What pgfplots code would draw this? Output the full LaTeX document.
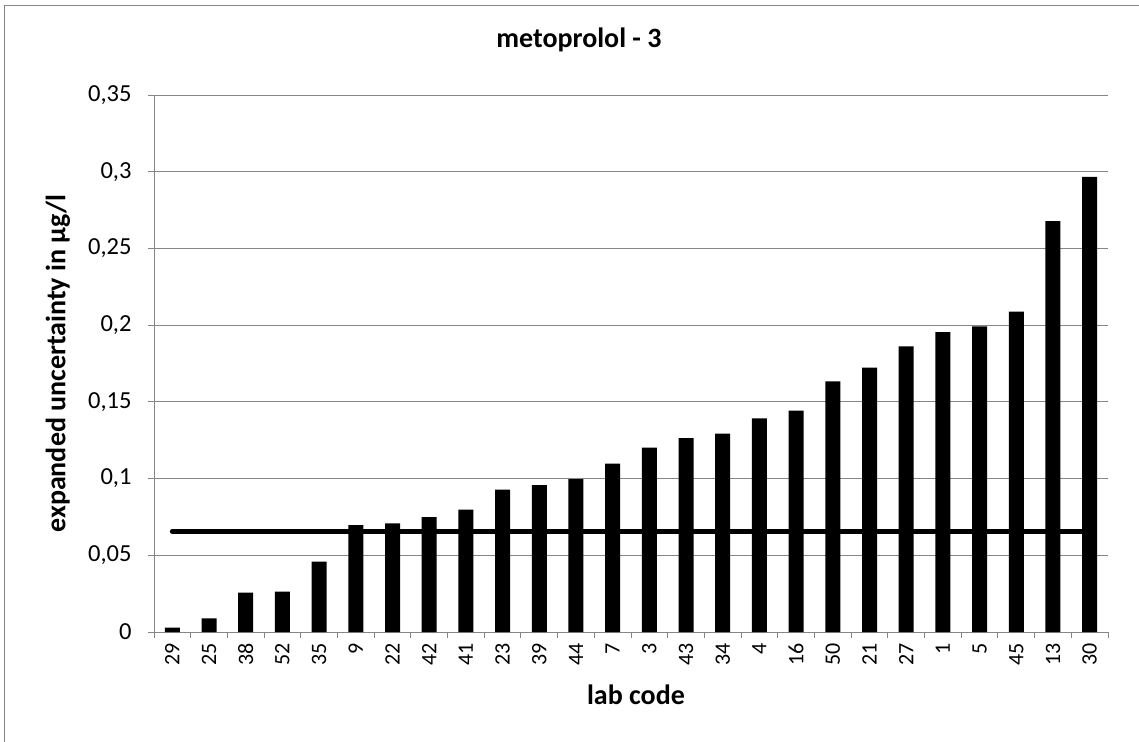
\documentclass[border=0pt]{standalone}
\usepackage{pgfplots}
\pgfplotsset{compat=1.18}
\usepackage{fontspec}
\setmainfont{Carlito}
\definecolor{gridgray}{RGB}{134,134,134}
\begin{document}
\begin{tikzpicture}
\begin{axis}[
  scale only axis, width=954bp, height=537bp,
  xmin=-0.5, xmax=25.5, ymin=0, ymax=0.35,
  axis x line*=bottom, axis y line*=left,
  axis line style={gridgray, line width=0.9bp, -},
  tick align=outside,
  major tick length=6bp,
  tick style={gridgray, line width=0.9bp},
  xtick={-0.5,0.5,...,25.5},
  x tick label as interval,
  xticklabels={29,25,38,52,35,9,22,42,41,23,39,44,7,3,43,34,4,16,50,21,27,1,5,45,13,30},
  xticklabel style={rotate=90, anchor=east, font=\fontsize{22bp}{26bp}\selectfont, xshift=-2bp},
  ytick={0,0.05,0.1,0.15,0.2,0.25,0.3,0.35},
  yticklabels={0,{0,05},{0,1},{0,15},{0,2},{0,25},{0,3},{0,35}},
  yticklabel style={font=\fontsize{24.5bp}{28bp}\selectfont, xshift=-13bp},
  ymajorgrids, grid style={gridgray, line width=0.9bp},
  xlabel={lab code},
  xlabel style={at={(axis description cs:0.5052,-0.1341)}, anchor=base, font=\fontsize{28bp}{32bp}\selectfont\bfseries},
  ylabel={expanded uncertainty in µg/l},
  ylabel style={at={(axis description cs:-0.1006,0.5)}, anchor=center, rotate=0, font=\fontsize{28bp}{32bp}\selectfont\bfseries},
  title={metoprolol - 3},
  title style={at={(axis description cs:0.4455,1.0782)}, anchor=base, font=\fontsize{28bp}{32bp}\selectfont\bfseries},
  clip=false,
]
\addplot[ybar, bar width=15bp, fill=black, draw=none] coordinates {
(0,0.0029) (1,0.0089) (2,0.0257) (3,0.0263) (4,0.0459) (5,0.0697)
(6,0.0708) (7,0.0748) (8,0.0798) (9,0.0928) (10,0.0958) (11,0.0997)
(12,0.1098) (13,0.1201) (14,0.1263) (15,0.1293) (16,0.1393) (17,0.1443)
(18,0.1634) (19,0.1723) (20,0.1862) (21,0.1954) (22,0.1992) (23,0.2088)
(24,0.2678) (25,0.2967)
};
\addplot[sharp plot, black, line width=5bp, line cap=round, mark=none] coordinates {(0,0.0655) (25,0.0655)};
\end{axis}
\path[use as bounding box] ([shift={(-154bp,-110bp)}]current axis.south west) rectangle ([shift={(31bp,95bp)}]current axis.north east);
\draw[gridgray, line width=0.9bp] ([shift={(-149.7bp,-110bp)}]current axis.south west) -- ([shift={(-149.7bp,89.5bp)}]current axis.north west) -- ([shift={(31bp,89.5bp)}]current axis.north east);
\end{tikzpicture}
\end{document}
